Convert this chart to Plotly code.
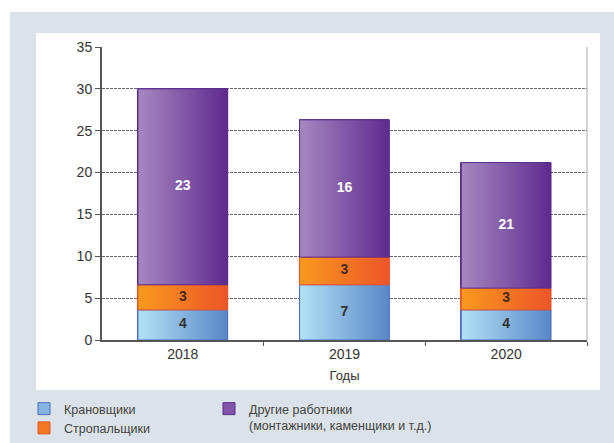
import plotly.graph_objects as go

years = ["2018", "2019", "2020"]
# segment heights as drawn in the picture
crane = [3.6, 6.6, 3.6]
sling = [3.0, 3.3, 2.6]
other = [23.4, 16.4, 15.0]
# labels printed on the segments
crane_lbl = ["4", "7", "4"]
sling_lbl = ["3", "3", "3"]
other_lbl = ["23", "16", "21"]
names = ["Крановщики", "Стропальщики",
         "Другие работники<br>(монтажники, каменщики и т.д.)"]
y_ticks = [0, 5, 10, 15, 20, 25, 30, 35]

series = [
    dict(vals=crane, lbl=crane_lbl, name=names[0], c0="#b2e2f6", c1="#5a86c6",
         mid="#86b4df", line="#4f6fc2", tc="#333333", legend="legend"),
    dict(vals=sling, lbl=sling_lbl, name=names[1], c0="#f89a1e", c1="#ec5528",
         mid="#f27822", line="#e8562a", tc="#4a2a18", legend="legend"),
    dict(vals=other, lbl=other_lbl, name=names[2], c0="#a688c0", c1="#5e2a8e",
         mid="#8054a8", line="#5b2f8c", tc="#ffffff", legend="legend2"),
]

W = 0.555
FONT = "Liberation Sans, Arial, sans-serif"
xs = list(range(len(years)))

fig = go.Figure()
base = [0.0] * len(years)
bases = []
for s in series:
    fig.add_trace(go.Bar(
        x=xs, y=s["vals"], base=base[:], width=W, name=s["name"],
        marker=dict(color=s["mid"], line=dict(color=s["line"], width=1)),
        legend=s["legend"], hoverinfo="skip"))
    bases.append(base[:])
    base = [b + v for b, v in zip(base, s["vals"])]

# gradient overlays + labels
for s, b in zip(series, bases):
    for i, (v, bb) in enumerate(zip(s["vals"], b)):
        x0, x1 = i - W / 2, i + W / 2
        fig.add_trace(go.Scatter(
            x=[x0, x1, x1, x0, x0], y=[bb, bb, bb + v, bb + v, bb],
            mode="lines", fill="toself",
            fillgradient=dict(type="horizontal",
                              colorscale=[[0, s["c0"]], [1, s["c1"]]]),
            line=dict(color=s["line"], width=1),
            showlegend=False, hoverinfo="skip"))
    fig.add_trace(go.Scatter(
        x=xs, y=[bb + v / 2 for v, bb in zip(s["vals"], b)],
        mode="text", text=["<b>%s</b>" % t for t in s["lbl"]],
        textfont=dict(family=FONT, size=14, color=s["tc"]),
        showlegend=False, hoverinfo="skip"))

L, R, T, B = 102, 27, 47, 103
PW, PH = 614 - L - R, 443 - T - B


def px(x):
    return (x - L) / PW


def py(y):
    return (443 - B - y) / PH


shapes = [
    dict(type="rect", xref="paper", yref="paper", x0=px(10), x1=px(620),
         y0=py(450), y1=py(12), fillcolor="#dbe2e9", line=dict(width=0),
         layer="below"),
    dict(type="rect", xref="paper", yref="paper", x0=px(36), x1=px(600),
         y0=py(390), y1=py(33), fillcolor="#ffffff", line=dict(width=0),
         layer="below"),
]

fig.update_layout(
    width=614, height=443,
    margin=dict(l=L, r=R, t=T, b=B, autoexpand=False),
    paper_bgcolor="#ffffff", plot_bgcolor="#ffffff",
    barmode="overlay", bargap=0,
    shapes=shapes,
    font=dict(family=FONT, size=14, color="#333333"),
    xaxis=dict(range=[-0.5, 2.5], tickvals=xs, ticktext=years,
               showgrid=False, zeroline=False,
               showline=True, linecolor="#555555", linewidth=2,
               ticks="", tickfont=dict(size=14, color="#333333"),
               minor=dict(tickvals=[0.5, 1.5, 2.5], ticks="outside",
                          ticklen=4, tickcolor="#555555", showgrid=False),
               title=dict(text="Годы", font=dict(size=13, color="#333333"),
                          standoff=10)),
    yaxis=dict(range=[0, 35], tickvals=y_ticks, showgrid=True,
               gridcolor="#666666", griddash="3px,1px", gridwidth=1,
               zeroline=False, showline=True, linecolor="#555555",
               linewidth=2, ticks="outside", ticklen=5,
               tickcolor="#555555", tickfont=dict(size=14, color="#333333")),
    legend=dict(x=px(24), y=py(394), xanchor="left", yanchor="top",
                orientation="v", bgcolor="rgba(0,0,0,0)",
                font=dict(size=12.5, color="#444444"),
                tracegroupgap=0, itemclick=False),
    legend2=dict(x=px(209), y=py(394), xanchor="left", yanchor="top",
                 orientation="v", bgcolor="rgba(0,0,0,0)", valign="top",
                 font=dict(size=12.5, color="#444444"), itemclick=False),
)
# right-side thin border line
fig.add_shape(type="line", xref="paper", yref="paper", x0=1, x1=1, y0=0,
              y1=1, line=dict(color="#aaaaaa", width=1))

fig.write_html("out.html", config={"displayModeBar": False},
               post_script="document.body.style.margin='0';")
